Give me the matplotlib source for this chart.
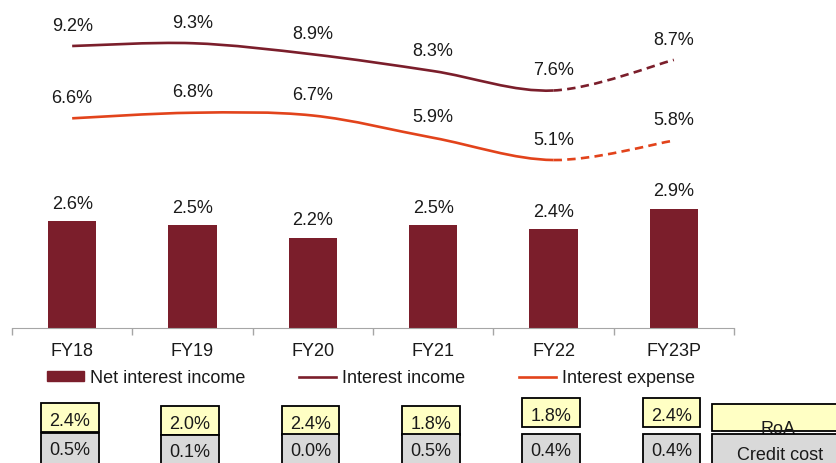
import matplotlib
matplotlib.use("Agg")
import matplotlib.pyplot as plt
import numpy as np
from matplotlib.lines import Line2D
from matplotlib.patches import PathPatch, Rectangle
from matplotlib.path import Path
from matplotlib.transforms import blended_transform_factory

years = ["FY18", "FY19", "FY20", "FY21", "FY22", "FY23P"]
net_interest_income = [2.6, 2.5, 2.2, 2.5, 2.4, 2.9]
interest_income = [9.2, 9.3, 8.9, 8.3, 7.6, 8.7]
interest_expense = [6.6, 6.8, 6.7, 5.9, 5.1, 5.8]
roa = [2.4, 2.0, 2.4, 1.8, 1.8, 2.4]
credit_cost = [0.5, 0.1, 0.0, 0.5, 0.4, 0.4]

MAROON = "#7B1E2B"
ORANGE = "#E2431B"
AXIS_GREY = "#A6A6A6"
TEXT = "#1A1A1A"
ROA_FILL = "#FFFFC4"
CC_FILL = "#D9D9D9"

plt.rcParams["font.family"] = ["Liberation Sans", "DejaVu Sans"]
FS = 13

W, H = 836, 464


def fy(px):
    # pixel row from the top -> figure fraction
    return 1 - px / H


def smooth_path(xs, ys, start, stop):
    """Cubic Bezier (Catmull-Rom style) path through points start..stop."""
    pts = np.column_stack([xs, ys]).astype(float)
    n = len(pts)
    verts = [pts[start]]
    codes = [Path.MOVETO]
    for i in range(start, stop):
        p0 = pts[max(i - 1, 0)]
        p1 = pts[i]
        p2 = pts[i + 1]
        p3 = pts[min(i + 2, n - 1)]
        verts += [p1 + (p2 - p0) / 6, p2 - (p3 - p1) / 6, p2]
        codes += [Path.CURVE4] * 3
    return Path(verts, codes)


fig = plt.figure(figsize=(W / 100, H / 100), dpi=100)
ax = fig.add_axes([12 / W, fy(329), 722 / W, 329 / H])
ax2 = ax.twinx()

x = np.arange(len(years))

# bars: net interest income
ax.bar(x, net_interest_income, width=0.4, color=MAROON, zorder=2)
for xi, v in zip(x, net_interest_income):
    ax.annotate(f"{v:.1f}%", (xi, v), xytext=(0, 13), textcoords="offset points",
                ha="center", va="center", fontsize=FS, color=TEXT)

ax.set_xlim(-0.5, len(years) - 0.5)
ax.set_ylim(0, 8)
ax2.set_ylim(-0.94, 10.89)

# smoothed lines, last year dashed (projection)
for vals, color in [(interest_income, MAROON), (interest_expense, ORANGE)]:
    last = len(vals) - 1
    ax2.add_patch(PathPatch(smooth_path(x, vals, 0, last - 1), fill=False,
                            edgecolor=color, lw=1.9, capstyle="butt"))
    ax2.add_patch(PathPatch(smooth_path(x, vals, last - 1, last), fill=False,
                            edgecolor=color, lw=1.9, linestyle=(0, (3.2, 2.0)),
                            capstyle="butt"))
    for xi, v in zip(x, vals):
        ax2.annotate(f"{v:.1f}%", (xi, v), xytext=(0, 15), textcoords="offset points",
                     ha="center", va="center", fontsize=FS, color=TEXT)

# axes styling
for a in (ax, ax2):
    for side in ("top", "left", "right"):
        a.spines[side].set_visible(False)
    a.set_yticks([])
ax2.spines["bottom"].set_visible(False)
ax.spines["bottom"].set_color(AXIS_GREY)
ax.set_xticks(x)
ax.set_xticklabels(years, fontsize=FS, color=TEXT)
ax.tick_params(axis="x", which="major", length=0, pad=10)
ax.set_xticks(np.arange(-0.5, len(years)), minor=True)
ax.tick_params(axis="x", which="minor", length=5, color=AXIS_GREY, width=1)

# legend
handles = [
    Rectangle((0, 0), 1, 1, color=MAROON),
    Line2D([], [], color=MAROON, lw=1.9),
    Line2D([], [], color=ORANGE, lw=1.9),
]
labels = ["Net interest income", "Interest income", "Interest expense"]
fig.legend(handles, labels, loc="center", bbox_to_anchor=(371 / W, fy(379)),
           ncol=3, frameon=False, fontsize=FS, handlelength=2.05,
           handleheight=0.45, handletextpad=0.3, columnspacing=3.0,
           labelcolor=TEXT)

# RoA / credit cost boxes below each year
tr = blended_transform_factory(ax.transData, fig.transFigure)
roa_top = [404, 407, 407, 407, 399, 399]
cc_top = [434, 436, 435, 435, 435, 435]
bw = 0.48
for i in range(len(years)):
    cx = x[i] - 0.02
    fig.add_artist(Rectangle((cx - bw / 2, fy(roa_top[i] + 29)), bw, 29 / H,
                             transform=tr, facecolor=ROA_FILL, edgecolor="black",
                             lw=1.3, zorder=3))
    fig.text(cx, fy(roa_top[i] + 18), f"{roa[i]:.1f}%", transform=tr,
             ha="center", va="center", fontsize=FS, color=TEXT, zorder=4)
    fig.add_artist(Rectangle((cx - bw / 2, fy(cc_top[i] + 40)), bw, 40 / H,
                             transform=tr, facecolor=CC_FILL, edgecolor="black",
                             lw=1.3, zorder=3))
    fig.text(cx, fy(cc_top[i] + 17), f"{credit_cost[i]:.1f}%", transform=tr,
             ha="center", va="center", fontsize=FS, color=TEXT, zorder=4)

# row headers on the right
fig.add_artist(Rectangle((712 / W, fy(432)), 0.2, 27 / H, transform=fig.transFigure,
                         facecolor=ROA_FILL, edgecolor="black", lw=1.3, zorder=3))
fig.text(778 / W, fy(434), "RoA", ha="center", va="baseline", fontsize=FS,
         color=TEXT, zorder=4)
fig.add_artist(Rectangle((712 / W, fy(475)), 0.2, 40 / H, transform=fig.transFigure,
                         facecolor=CC_FILL, edgecolor="black", lw=1.3, zorder=5))
fig.text(780 / W, fy(456), "Credit cost", ha="center", va="center", fontsize=FS,
         color=TEXT, zorder=6)

fig.savefig("out.png", dpi=100)
